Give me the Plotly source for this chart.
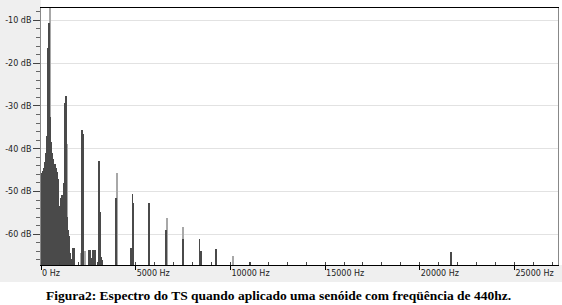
import plotly.graph_objects as go

# ---------------- data ----------------
# low-frequency dense region (dark bars), Hz and dB
blob_freq = [0, 55, 110, 165, 220, 275, 330, 385, 440, 495, 550, 605, 660, 715, 770,
             825, 880, 935, 990, 1045, 1100, 1155, 1210, 1265, 1320, 1375, 1430,
             1485, 1540, 1595, 1650]
blob_db = [-46, -45.6, -45.3, -44.5, -43, -41, -37, -16.5, -10.5, -32.5, -38.5, -41,
           -42.5, -43.5, -44.5, -45.5, -47, -53.5, -54, -51.5, -50.8, -51.2, -48,
           -29.3, -27.6, -56, -59, -60.5, -64.5, -65.7, -66.5]

# harmonic / spur bars (dark)
harm_freq = [1700, 1750, 2180, 2230, 2540, 2590, 2630, 2770, 2830, 3060, 3110, 3170,
             3220, 3960, 4770, 4830, 4880, 5720, 6600, 7480, 8370, 8430, 9260, 11020,
             21640]
harm_db = [-63.3, -63.3, -35.6, -36.5, -63.8, -63.8, -65.5, -63.6, -63.6, -42.8, -54.8,
           -65.3, -66, -51.6, -63.2, -50.5, -52.7, -52.8, -59.1, -61.1, -61.1, -63.9,
           -63.4, -66.5, -64.2]

# lighter grey bars (peak hold)
light_freq = [475, 1370, 2100, 2340, 3995, 6635, 7515, 10120]
light_db = [-5, -38.9, -64.4, -64, -45.8, -56.2, -58.3, -65.1]

y_ticks = [-10, -20, -30, -40, -50, -60]
y_labels = ["-10 dB", "-20 dB", "-30 dB", "-40 dB", "-50 dB", "-60 dB"]
x_ticks = [0, 5000, 10000, 15000, 20000, 25000]
x_labels = ["0 Hz", "5000 Hz", "10000 Hz", "15000 Hz", "20000 Hz", "25000 Hz"]

caption = "Figura2: Espectro do TS quando aplicado uma senóide com freqüência de 440hz."

FLOOR = -70.0
DARK = "#4a4a4a"
LIGHT = "#a8a8a8"

fig = go.Figure()

fig.add_trace(go.Bar(
    x=light_freq, y=[v - FLOOR for v in light_db], base=FLOOR, width=40,
    marker=dict(color=LIGHT, line=dict(width=0)), hoverinfo="skip", showlegend=False))
fig.add_trace(go.Bar(
    x=blob_freq, y=[v - FLOOR for v in blob_db], base=FLOOR, width=56,
    marker=dict(color=DARK, line=dict(width=0)), hoverinfo="skip", showlegend=False))
fig.add_trace(go.Bar(
    x=harm_freq, y=[v - FLOOR for v in harm_db], base=FLOOR, width=50,
    marker=dict(color=DARK, line=dict(width=0)), hoverinfo="skip", showlegend=False))

W, H = 562, 305
L, R, T, B = 41, 4, 8, 40
pw = W - L - R
ph = H - T - B

fig.update_layout(
    width=W, height=H, autosize=False,
    margin=dict(l=L, r=R, t=T, b=B, pad=0),
    paper_bgcolor="white", plot_bgcolor="white",
    barmode="overlay", bargap=0,
    font=dict(family="DejaVu Sans", size=8, color="#222"),
    xaxis=dict(
        range=[0, 27300], showgrid=False, zeroline=False,
        showline=True, linecolor="black", linewidth=1, mirror=True,
        tickmode="array", tickvals=x_ticks, ticktext=x_labels,
        ticks="outside", ticklen=4, tickcolor="black",
        ticklabelposition="outside right",
        minor=dict(tickmode="linear", tick0=0, dtick=1000, ticks="inside",
                   ticklen=3, tickcolor="#444", showgrid=False),
        tickfont=dict(family="DejaVu Sans", size=8, color="#222"),
        fixedrange=True,
    ),
    yaxis=dict(
        range=[-67.2, -7.1], showgrid=True, gridcolor="#e2e2e2", gridwidth=1,
        zeroline=False, showline=True, linecolor="#888", linewidth=1, mirror=True,
        tickmode="array", tickvals=y_ticks, ticktext=y_labels,
        ticks="outside", ticklen=7, tickcolor="#444",
        minor=dict(tickmode="linear", tick0=0, dtick=2, ticks="outside",
                   ticklen=4, tickcolor="#666", showgrid=False),
        tickfont=dict(family="DejaVu Sans", size=8, color="#222"),
        fixedrange=True,
    ),
    shapes=[
        # left grey panel
        dict(type="rect", xref="paper", yref="paper", layer="below",
             x0=-L / pw, x1=0, y0=-17 / ph, y1=1 + T / ph,
             fillcolor="#efefef", line=dict(width=0)),
        # bottom grey band
        dict(type="rect", xref="paper", yref="paper", layer="below",
             x0=-L / pw, x1=1 + R / pw, y0=-17 / ph, y1=0,
             fillcolor="#efefef", line=dict(width=0)),
    ],
    annotations=[
        dict(text="<b>" + caption + "</b>", xref="paper", yref="paper",
             x=(278 - L) / pw, y=-(295 - (H - B)) / ph,
             xanchor="center", yanchor="middle", showarrow=False,
             font=dict(family="Liberation Serif", size=13.5, color="black")),
    ],
)

fig.write_html("out.html", config={"displayModeBar": False},
               post_script="document.body.style.margin='0';")
